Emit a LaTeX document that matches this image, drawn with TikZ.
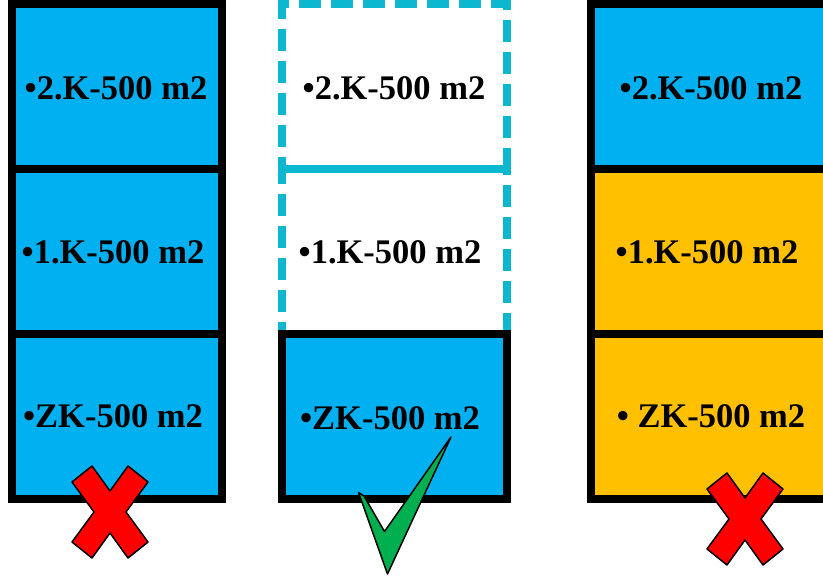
\documentclass[tikz,border=0pt]{standalone}
\usepackage{fontspec}
\setmainfont{Liberation Serif}
\definecolor{boxblue}{RGB}{0,176,240}
\definecolor{boxyellow}{RGB}{255,192,0}
\definecolor{dashcyan}{RGB}{11,184,208}
\definecolor{checkgreen}{RGB}{0,176,80}
\definecolor{crossred}{RGB}{255,0,0}
\begin{document}
\begin{tikzpicture}[x=1pt,y=-1pt,
  floorbox/.style={draw=black, line width=8pt, inner sep=0pt, outer sep=0pt, minimum height=165pt},
  dashbox/.style={draw=dashcyan, line width=8pt, dash pattern=on 22pt off 10pt, inner sep=0pt, outer sep=0pt, minimum height=165pt},
  lbl/.style={font=\bfseries\fontsize{34.5}{40}\selectfont, inner sep=0pt},
  crossmark/.pic={\draw[fill=crossred, line width=1.5pt, line join=round]
     (-38,-30) -- (-18,-46) -- (0,-21) -- (18,-46) -- (38,-30) -- (16,0) -- (38,30)
     -- (18,46) -- (0,21) -- (-18,46) -- (-38,30) -- (-16,0) -- cycle;}
]
\useasboundingbox (0,0) rectangle (823,577);
\clip (0,0) rectangle (823,577);
\fill[white] (0,0) rectangle (823,577);

% left column
\node[floorbox, fill=boxblue, minimum width=210pt] (L2) at (117,86.5) {};
\node[floorbox, fill=boxblue, minimum width=210pt] (L1) at (117,251.5) {};
\node[floorbox, fill=boxblue, minimum width=210pt] (L0) at (117,416.5) {};
\node[lbl] (tL2) at (116,88) {•2.K-500 m2};
\node[lbl] (tL1) at (113,252) {•1.K-500 m2};
\node[lbl] (tL0) at (113,416) {•ZK-500 m2};

% middle column
\node[dashbox, minimum width=225pt] (M2) at (394.5,86.5) {};
\node[dashbox, minimum width=225pt] (M1) at (394.5,251.5) {};
\node[floorbox, fill=boxblue, minimum width=225pt] (M0) at (394.5,416.5) {};
\node[lbl] (tM2) at (394,88) {•2.K-500 m2};
\node[lbl] (tM1) at (390,252) {•1.K-500 m2};
\node[lbl] (tM0) at (390,418) {•ZK-500 m2};

% right column
\node[floorbox, fill=boxblue, minimum width=240pt] (R2) at (711,86.5) {};
\node[floorbox, fill=boxyellow, minimum width=240pt] (R1) at (711,251.5) {};
\node[floorbox, fill=boxyellow, minimum width=240pt] (R0) at (711,416.5) {};
\node[lbl] (tR2) at (711,88) {•2.K-500 m2};
\node[lbl] (tR1) at (707,252) {•1.K-500 m2};
\node[lbl] (tR0) at (711,416) {• ZK-500 m2};

% marks
\pic (xl) at (110,512) {crossmark};
\pic (xr) at (745,519) {crossmark};
\draw[fill=checkgreen, line width=1.5pt, line join=round]
  (358.5,492.5) -- (387.5,574) -- (451,437) -- (384.5,531.5) -- (364,496) -- cycle;
\end{tikzpicture}
\end{document}
